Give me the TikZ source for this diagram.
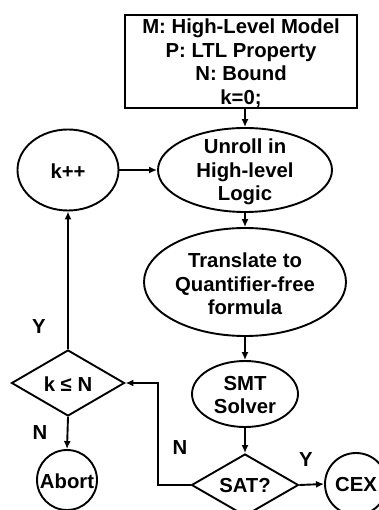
\documentclass[tikz,border=0pt]{standalone}
\usepackage{fontspec}
\setmainfont{Liberation Sans}
\usetikzlibrary{shapes.geometric,arrows.meta}
\tikzset{
  base/.style={draw, line width=1.9pt, inner sep=0pt},
  oval/.style={base, ellipse},
  decision/.style={base, diamond},
  txt/.style={font=\fontsize{20.3}{23.5}\selectfont\bfseries, align=center, inner sep=0pt},
  tag/.style={font=\fontsize{20.3}{24}\selectfont\bfseries, inner sep=0pt},
  arrow/.style={line width=1.9pt, -{Latex[length=8pt,width=7pt]}}
}
\begin{document}
\begin{tikzpicture}[x=1pt,y=-1pt]
\clip (0,0) rectangle (379,510);

% inputs
\node[base, rectangle, minimum width=232pt, minimum height=93pt] (spec) at (241,61.5) {};
\node[txt] (spec-t) at (241,63) {M: High-Level Model\\P: LTL Property\\N: Bound\\k=0;};

% main pipeline
\node[oval, minimum width=174pt, minimum height=84pt] (unroll) at (245,170) {};
\node[txt] (unroll-t) at (245,172) {Unroll in\\High-level\\Logic};

\node[oval, minimum width=202pt, minimum height=108pt] (trans) at (245,282) {};
\node[txt] (trans-t) at (245,284) {Translate to\\Quantifier-free\\formula};

\node[oval, minimum width=106pt, minimum height=66pt] (smt) at (245,394) {};
\node[txt] (smt-t) at (245,395) {SMT\\Solver};

\node[decision, minimum width=107pt, minimum height=62pt] (sat) at (245,485) {};
\node[txt] (sat-t) at (245,486) {SAT?};

\node[base, circle, minimum size=62pt] (cex) at (356,484) {};
\node[txt] (cex-t) at (356,485) {CEX};

% bound loop
\node[oval, minimum width=101pt, minimum height=81pt] (kpp) at (68,170) {};
\node[txt] (kpp-t) at (68,171) {k++};

\node[decision, minimum width=113pt, minimum height=66pt] (kn) at (68,383) {};
\node[txt] (kn-t) at (68,384) {k ≤ N};

\node[base, circle, minimum size=60pt] (abort) at (67,480) {};
\node[txt] (abort-t) at (67,481) {Abort};

% branch labels
\node[tag] (kn-yes) at (39,327) {Y};
\node[tag] (kn-no) at (40,433) {N};
\node[tag] (sat-no) at (180,448) {N};
\node[tag] (sat-yes) at (306,460) {Y};

\coordinate (turn) at (158,383);

% connectors
\draw[arrow] (spec.south -| unroll.north) -- (unroll.north);
\draw[arrow] (kpp.east) -- (unroll.west);
\draw[arrow] (unroll.south) -- (trans.north);
\draw[arrow] (trans.south) -- (smt.north);
\draw[arrow] (smt.south) -- (sat.north);
\draw[arrow] (sat.east) -- (cex.west);
\draw[arrow] (sat.west) -| (turn) -- (kn.east);
\draw[arrow] (kn.north) -- (kpp.south);
\draw[arrow] (kn.south) -- (abort.north);
\end{tikzpicture}
\end{document}
